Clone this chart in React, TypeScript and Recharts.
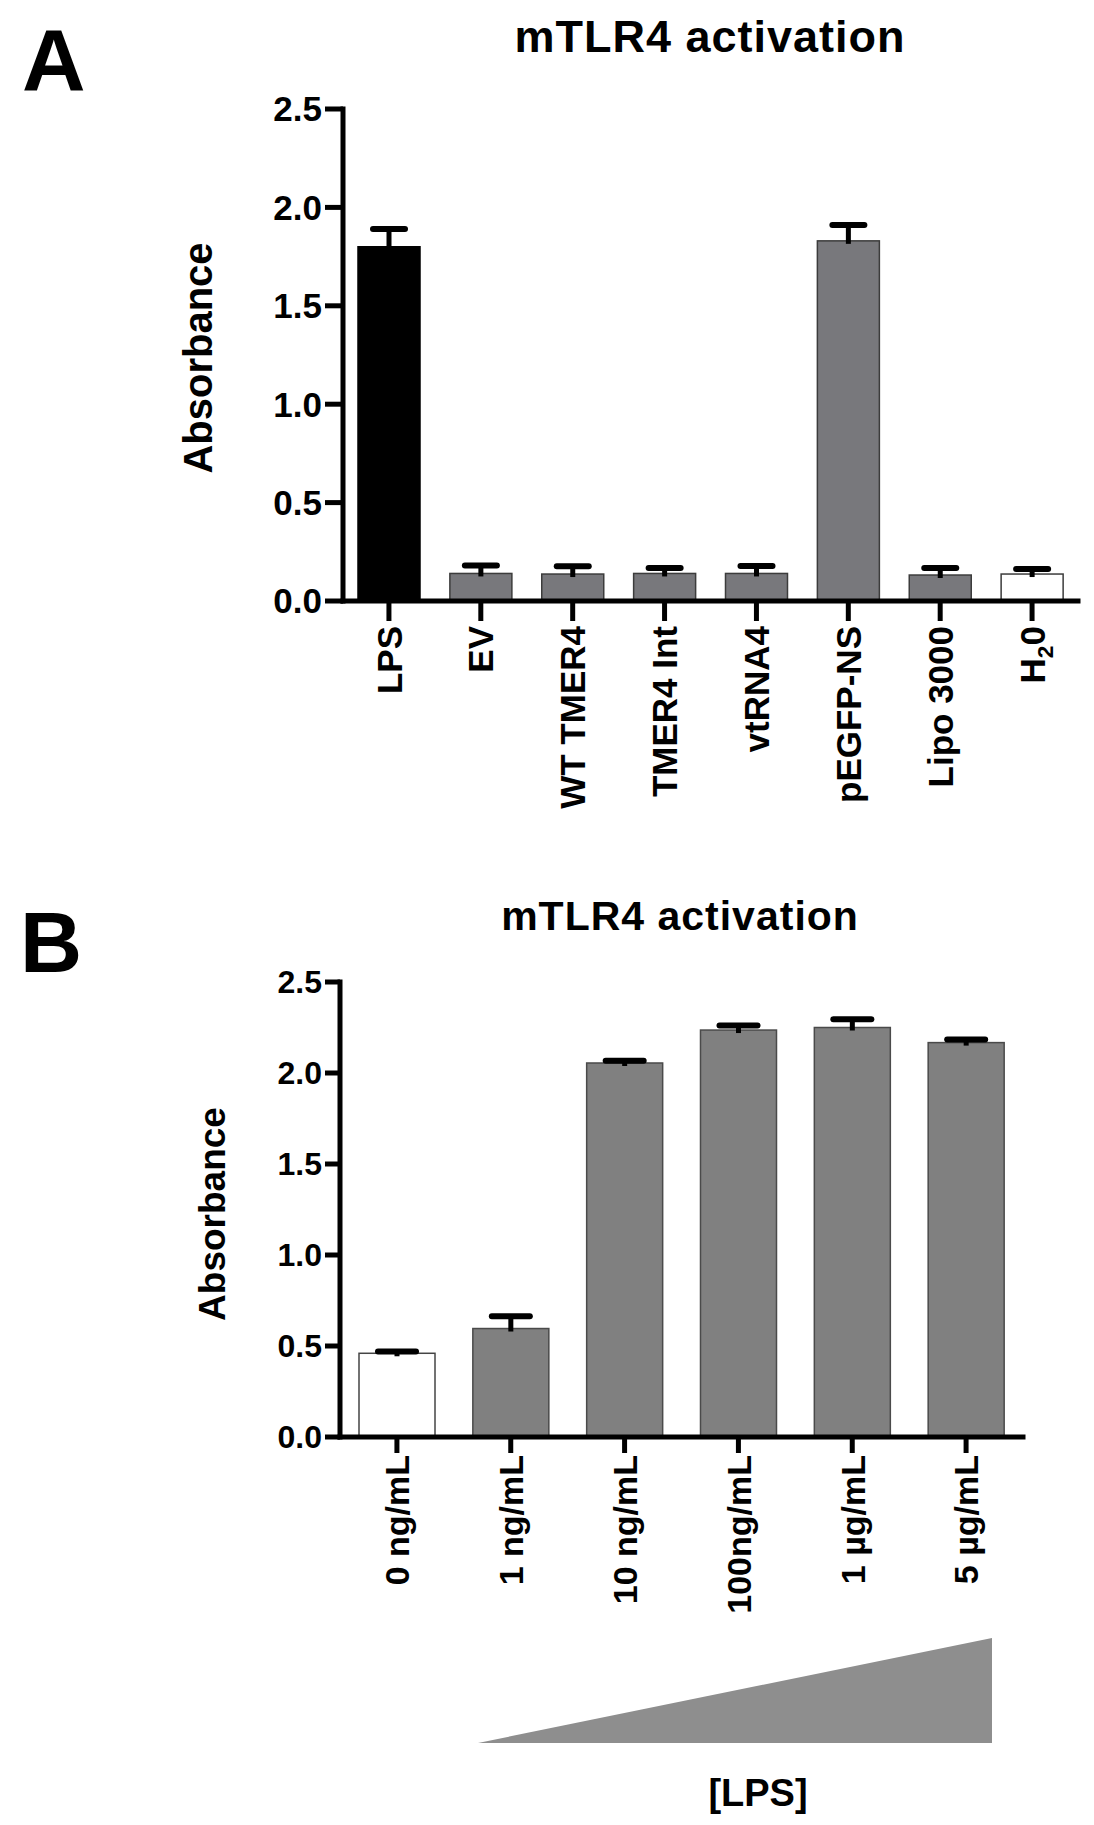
import React from 'react'
import { BarChart, Bar, XAxis, YAxis, Cell } from 'recharts'

const FONT = "'Liberation Sans', Arial, Helvetica, sans-serif"

// panel A: mTLR4 activation by construct
const panelACategories = ['LPS', 'EV', 'WT TMER4', 'TMER4 Int', 'vtRNA4', 'pEGFP-NS', 'Lipo 3000', 'H₂0']
const panelAMeans = [1.8, 0.14, 0.137, 0.14, 0.14, 1.83, 0.132, 0.137]
const panelAErrors = [0.09, 0.04, 0.04, 0.028, 0.038, 0.08, 0.036, 0.026]

// panel B: LPS dose response
const panelBCategories = ['0 ng/mL', '1 ng/mL', '10 ng/mL', '100ng/mL', '1 µg/mL', '5 µg/mL']
const panelBMeans = [0.46, 0.596, 2.055, 2.236, 2.25, 2.167]
const panelBErrors = [0.01, 0.067, 0.012, 0.025, 0.045, 0.017]

const yTicks = [0, 0.5, 1, 1.5, 2, 2.5]

const panelAFills = ['#000000', '#78787c', '#78787c', '#78787c', '#78787c', '#78787c', '#78787c', '#ffffff']
const panelAStrokes = ['#000000', '#3c3c3c', '#3c3c3c', '#3c3c3c', '#3c3c3c', '#3c3c3c', '#3c3c3c', '#3c3c3c']
const panelBFills = ['#ffffff', '#808080', '#808080', '#808080', '#808080', '#808080']
const panelBStrokes = ['#444444', '#4a4a4a', '#4a4a4a', '#4a4a4a', '#4a4a4a', '#4a4a4a']

const dataA = panelACategories.map((name, i) => ({ name, value: panelAMeans[i], err: panelAErrors[i] }))
const dataB = panelBCategories.map((name, i) => ({ name, value: panelBMeans[i], err: panelBErrors[i] }))

function RotatedTick(props: any) {
  const { x, y, payload, fontSize } = props
  const label = String(payload.value)
  const parts = label.split('₂')
  return (
    <g transform={`translate(${x},${y})`}>
      <text
        transform="rotate(-90)"
        textAnchor="end"
        dy={fontSize * 0.36}
        fill="#000"
        fontSize={fontSize}
        fontWeight={700}
        fontFamily={FONT}
      >
        {parts.length === 1 ? (
          label
        ) : (
          <>
            <tspan>{parts[0]}</tspan>
            <tspan fontSize={fontSize * 0.65} dy={fontSize * 0.25}>2</tspan>
            <tspan dy={-fontSize * 0.25}>{parts[1]}</tspan>
          </>
        )}
      </text>
    </g>
  )
}

// bar plus an upper-only error bar, sized from the bar's own scale
function BarWithError(props: any) {
  const { x, y, width, height, fill, stroke, value, payload, capWidth } = props
  const v = Array.isArray(value) ? value[1] - value[0] : value
  const perUnit = v ? height / v : 0
  const errPx = payload.err * perUnit
  const cx = x + width / 2
  return (
    <g>
      <rect x={x} y={y} width={width} height={height} fill={fill} stroke={stroke} strokeWidth={1.5} />
      <line x1={cx} x2={cx} y1={y + 3} y2={y - errPx} stroke="#000" strokeWidth={5} />
      <line
        x1={cx - capWidth / 2 + 3}
        x2={cx + capWidth / 2 - 3}
        y1={y - errPx}
        y2={y - errPx}
        stroke="#000"
        strokeWidth={6}
        strokeLinecap="round"
      />
    </g>
  )
}

const axisStyle = { stroke: '#000', strokeWidth: 5, strokeLinecap: 'square' as const }

export default function App() {
  return (
    <div style={{ position: 'absolute', left: 0, top: 0, width: 1094, height: 1825, background: '#fff' }}>
      <div style={{ position: 'absolute', left: 0, top: 0 }}>
        <BarChart width={1094} height={830} data={dataA} margin={{ top: 109, right: 16, bottom: 0, left: 223 }}>
          <XAxis
            dataKey="name"
            interval={0}
            height={229}
            axisLine={axisStyle}
            tickLine={{ stroke: '#000', strokeWidth: 5 }}
            tickSize={20}
            tickMargin={5}
            tick={<RotatedTick fontSize={35} />}
          />
          <YAxis
            type="number"
            domain={[0, 2.5]}
            ticks={yTicks}
            width={120}
            axisLine={axisStyle}
            tickLine={{ stroke: '#000', strokeWidth: 5 }}
            tickSize={18}
            tickMargin={3}
            tickFormatter={(v: number) => v.toFixed(1)}
            tick={{ fill: '#000', fontSize: 35, fontWeight: 700, fontFamily: FONT }}
          />
          <Bar dataKey="value" barSize={62} isAnimationActive={false} shape={(p: any) => <BarWithError {...p} capWidth={38} />}>
            {dataA.map((d, i) => (
              <Cell key={d.name} fill={panelAFills[i]} stroke={panelAStrokes[i]} />
            ))}
          </Bar>
        </BarChart>
      </div>

      <div style={{ position: 'absolute', left: 0, top: 880 }}>
        <BarChart width={1094} height={760} data={dataB} margin={{ top: 102, right: 71, bottom: 0, left: 220 }}>
          <XAxis
            dataKey="name"
            interval={0}
            height={203}
            axisLine={axisStyle}
            tickLine={{ stroke: '#000', strokeWidth: 5 }}
            tickSize={16}
            tickMargin={2}
            tick={<RotatedTick fontSize={34} />}
          />
          <YAxis
            type="number"
            domain={[0, 2.5]}
            ticks={yTicks}
            width={120}
            axisLine={axisStyle}
            tickLine={{ stroke: '#000', strokeWidth: 5 }}
            tickSize={15}
            tickMargin={3}
            tickFormatter={(v: number) => v.toFixed(1)}
            tick={{ fill: '#000', fontSize: 32, fontWeight: 700, fontFamily: FONT }}
          />
          <Bar dataKey="value" barSize={76} isAnimationActive={false} shape={(p: any) => <BarWithError {...p} capWidth={44} />}>
            {dataB.map((d, i) => (
              <Cell key={d.name} fill={panelBFills[i]} stroke={panelBStrokes[i]} />
            ))}
          </Bar>
        </BarChart>
      </div>

      <svg
        width={1094}
        height={1825}
        style={{ position: 'absolute', left: 0, top: 0, pointerEvents: 'none' }}
        fontFamily={FONT}
        fontWeight={700}
      >
        <text x={22} y={90} fontSize={88}>A</text>
        <text x={20} y={972} fontSize={86}>B</text>

        <text x={710} y={52} fontSize={45} letterSpacing={1} textAnchor="middle">mTLR4 activation</text>
        <text x={680} y={930} fontSize={41} letterSpacing={1} textAnchor="middle">mTLR4 activation</text>

        <text transform="translate(212,358) rotate(-90)" fontSize={40} textAnchor="middle">Absorbance</text>
        <text transform="translate(225,1214) rotate(-90)" fontSize={37} textAnchor="middle">Absorbance</text>

        <polygon points="478,1743 992,1743 992,1638" fill="#8e8e8e" />
        <text x={758} y={1806} fontSize={38} textAnchor="middle">[LPS]</text>
      </svg>
    </div>
  )
}
